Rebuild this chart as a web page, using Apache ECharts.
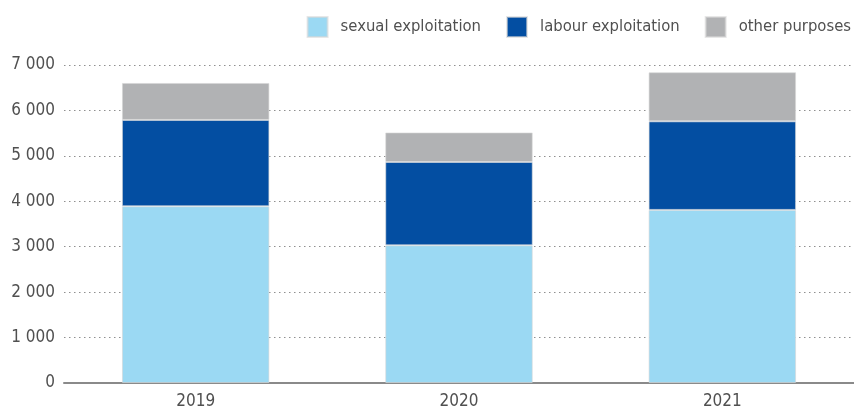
<!DOCTYPE html>
<html>
<head>
<meta charset="utf-8">
<script src="https://cdn.jsdelivr.net/npm/echarts@6/dist/echarts.min.js"></script>
<style>
    html, body { margin: 0; padding: 0; background: #fff; }
    #chart { width: 854px; height: 414px; }
</style>
</head>
<body>
<div id="chart"></div>
<script>
// 数据：按年份的贩运目的分布
const years = ["2019", "2020", "2021"];
const sexualExploitation = [3890, 3030, 3810];
const labourExploitation = [1900, 1835, 1950];
const otherPurposes = [815, 650, 1080];
const yTicks = [0, 1000, 2000, 3000, 4000, 5000, 6000, 7000];

const FONT = '"Liberation Sans Narrow", "DejaVu Sans Condensed", sans-serif';
const TEXT_COLOR = "#505050";

// 千位用空格分隔
const formatThousands = value => String(value).replace(/\B(?=(\d{3})+(?!\d))/g, " ");

const makeSeries = (name, data, color) => ({
    name,
    type: "bar",
    stack: "total",
    data,
    barWidth: "56%",
    itemStyle: { color, borderColor: "rgba(215,215,215,0.6)", borderWidth: 1 }
});

const chart = echarts.init(document.getElementById("chart"));
chart.setOption({
    animation: false,
    textStyle: { fontFamily: FONT },
    legend: {
        top: 11,
        right: -2,
        itemWidth: 20,
        itemHeight: 20,
        itemGap: 25,
        icon: "rect",
        textStyle: { fontFamily: FONT, fontSize: 16.5, color: TEXT_COLOR, padding: [0, 0, 0, 8] },
        data: ["sexual exploitation", "labour exploitation", "other purposes"]
    },
    grid: { left: 64, right: -2, top: 65, bottom: 31 },
    xAxis: {
        type: "category",
        data: years,
        axisLine: { lineStyle: { color: "#8a8a8a", width: 2 } },
        axisTick: { show: false },
        axisLabel: { fontFamily: FONT, fontSize: 17, color: TEXT_COLOR, margin: 10 }
    },
    yAxis: {
        type: "value",
        min: yTicks[0],
        max: yTicks[yTicks.length - 1],
        interval: 1000,
        axisLine: { show: false },
        axisTick: { show: false },
        axisLabel: {
            fontFamily: FONT,
            fontSize: 17,
            color: TEXT_COLOR,
            margin: 9,
            formatter: formatThousands
        },
        splitLine: { lineStyle: { color: "#8f8f8f", type: [1.5, 3.5], width: 1.2 } }
    },
    series: [
        makeSeries("sexual exploitation", sexualExploitation, "#9bd9f3"),
        makeSeries("labour exploitation", labourExploitation, "#034ea2"),
        makeSeries("other purposes", otherPurposes, "#b1b2b4")
    ]
});
</script>
</body>
</html>
